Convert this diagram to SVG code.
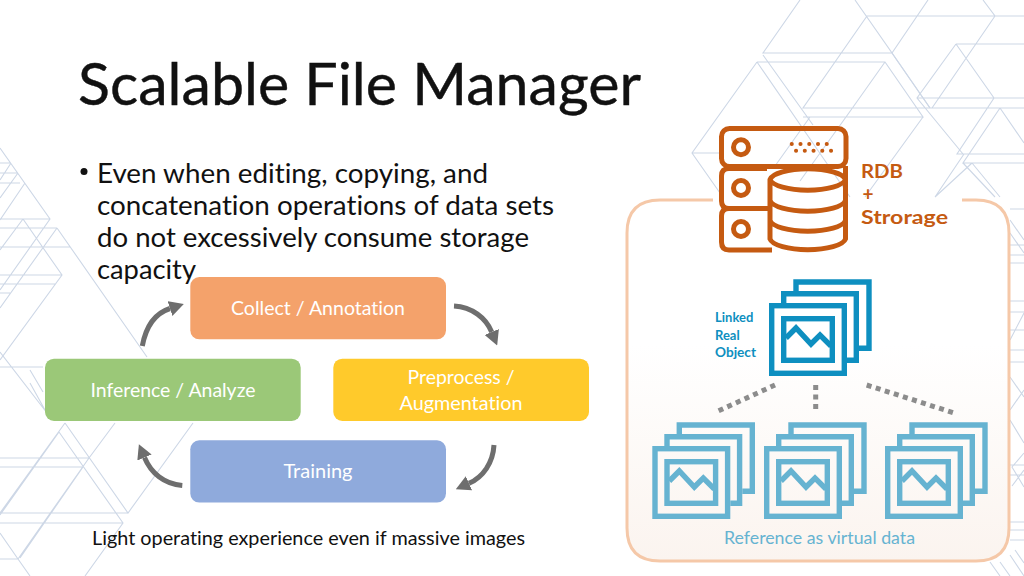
<svg xmlns="http://www.w3.org/2000/svg" width="1024" height="576" viewBox="0 0 1024 576">
<style>
.bg{fill:none;stroke:#cdd7e6;stroke-width:1.100}
text{font-family:"Lato","Open Sans","Liberation Sans",sans-serif;font-variant-ligatures:none}
.body{font-size:27px;fill:#111}
.lbl{font-size:20px;fill:#fff;text-anchor:middle}
.node{stroke:none}
.rdb{font-weight:700;font-size:19px;fill:#c55a11}
.lnk{font-weight:700;font-size:13px;fill:#0e8fc0}
.arc{fill:none;stroke:#6e6e6e;stroke-width:5}
.dot{fill:none;stroke:#8c8c8c;stroke-width:5;stroke-dasharray:5 4.500}
.db{fill:none;stroke:#c55a11;stroke-width:5;stroke-linejoin:round}
.st{fill:none;stroke-width:5.400}
</style>
<defs>
<linearGradient id="pg" x1="0" y1="0" x2="0" y2="1"><stop offset="0.4" stop-color="#fff"/><stop offset="1" stop-color="#fbf4ef"/></linearGradient>
<marker id="ah" viewBox="0 0 10 10" refX="0" refY="5" markerWidth="2.900" markerHeight="3.100" orient="auto" markerUnits="strokeWidth" preserveAspectRatio="none"><path d="M0 0L10 5L0 10Z" fill="#6e6e6e"/></marker>
<g id="imgs">
<path d="M27 -12V-21H100V45.300H90"/>
<path d="M14.700 0V-9.300H87.300V57.300H78"/>
<rect x="2.700" y="2.700" width="72.600" height="67.600"/>
<rect x="14.700" y="15.700" width="48.600" height="41.600"/>
<path d="M17 35L27 25L42 41L51 32L62 43"/>
</g>
</defs>
<rect width="1024" height="576" fill="#fff"/>
<g id="background">
<path class="bg" d="M800 0L763 53H892L855 0M928 0L892 53L930 108M983 0L995 16H867L803 108H1024M995 16H1024M995 16L932 108M763 55L813 125M757 62H885L923 117H803M757 62L692 153L720 193M692 153H720M757 62L850 197M885 62L851 110M923 117L865 197M956 44H1024M956 44L917 98L963 154M956 44L994 98L957 154H1024M917 98H1024M1000 108L963 163H1024M1000 108L1024 143M963 163L995 197M972 163L935 197M972 163L1000 197M964 154L935 197M851 110L800 181M810 117L775 166"/>
<path class="bg" d="M892 53L930 108" stroke-width="2"/>
<path class="bg" d="M1010 209H1024M1010 245H1024M1010 255H1024M1010 263H1024M1010 301H1024M1010 312H1024M1010 330H1024M1010 350H1024M1010 362H1024M1010 465H1024M1010 475H1024M1010 522H1024M1010 530H1024M1010 540H1024M1010 220L1024 240M1010 233L1024 253M1010 340L1024 313M1010 377L1024 397M1010 410L1024 390M1010 420L1024 443M1024 453L1012 467L1024 487M1024 470L1012 486M990 562L1000 576M1000 562L1010 576M1010 555L1024 576M1015 550L1024 563"/>
<path class="bg" d="M0 148L50 219L0 290M0 219H50M0 228H57M0 247H70M0 275H62M0 284H55M0 293H10M0 163H11M0 173H18M0 183H20M18 173L0 198M11 163L0 180M25 183L0 220M23 219L62 275L0 360M23 219L0 250M57 228L147 357M57 228L0 308"/>
<path class="bg" d="M0 352L47 413M30 370L43 392M0 367H43M30 383L45 410M0 458H89M0 467H83M0 513H128M0 523H123M0 559H18M65 423L128 513L193 423M59 432L123 523L85 576M65 423L0 513M115 423L89 458L18 559M83 467L20 558M18 559L30 576M0 533L18 559M59 432L0 515"/>
</g>
<g id="title"><text x="78" y="104.500" font-size="57.500" fill="#111" stroke="#111" stroke-width="0.400" textLength="563" lengthAdjust="spacingAndGlyphs">Scalable File Manager</text></g>
<g id="bullets">
<circle cx="84" cy="171.500" r="3.500" fill="#111"/>
<text class="body" x="97" y="182.500" textLength="391" lengthAdjust="spacingAndGlyphs">Even when editing, copying, and</text>
<text class="body" x="97" y="214.500" textLength="457" lengthAdjust="spacingAndGlyphs">concatenation operations of data sets</text>
<text class="body" x="97" y="246.500" textLength="432" lengthAdjust="spacingAndGlyphs">do not excessively consume storage</text>
<text class="body" x="97" y="278.500" textLength="99" lengthAdjust="spacingAndGlyphs">capacity</text>
</g>
<g id="panel">
<path d="M713 200H660Q627 200 627 233V528Q627 561 660 561H976Q1009 561 1009 528V233Q1009 200 976 200H962" fill="url(#pg)" stroke="#f5c8a8" stroke-width="3"/>
</g>
<g id="connectors">
<path class="arc" d="M142.300 346C146 326 156 313 170 308.500" marker-end="url(#ah)"/>
<path class="arc" d="M454 306C472 307 486 318 491.700 332" marker-end="url(#ah)"/>
<path class="arc" d="M494 445C493 463 483 477 469 483.300" marker-end="url(#ah)"/>
<path class="arc" d="M182.300 485.500C164 484 151 473 144.500 457.500" marker-end="url(#ah)"/>
<path class="dot" d="M775 385L716.700 411.700"/>
<path class="dot" d="M815.700 385V410"/>
<path class="dot" d="M866.700 385L953.300 412.700"/>
</g>
<g id="node-collect"><rect class="node" x="190.300" y="277" width="255.700" height="62.300" rx="9" fill="#f4a26b"/><text class="lbl" x="318" y="315" textLength="174" lengthAdjust="spacingAndGlyphs">Collect / Annotation</text></g>
<g id="node-preprocess"><rect class="node" x="333.300" y="358.700" width="255.700" height="62.300" rx="9" fill="#ffca2b"/><text class="lbl" x="461" y="384" textLength="107" lengthAdjust="spacingAndGlyphs">Preprocess /</text><text class="lbl" x="461" y="410" textLength="123" lengthAdjust="spacingAndGlyphs">Augmentation</text></g>
<g id="node-inference"><rect class="node" x="45" y="358.700" width="255.700" height="62.300" rx="9" fill="#9bc878"/><text class="lbl" x="173" y="397" textLength="165" lengthAdjust="spacingAndGlyphs">Inference / Analyze</text></g>
<g id="node-training"><rect class="node" x="190.300" y="440.300" width="255.700" height="62.300" rx="9" fill="#8faadc"/><text class="lbl" x="318" y="478" textLength="69" lengthAdjust="spacingAndGlyphs">Training</text></g>
<g id="caption"><text x="92" y="545" font-size="20" fill="#111" textLength="433" lengthAdjust="spacingAndGlyphs">Light operating experience even if massive images</text></g>
<g id="node-rdb">
<rect class="db" x="721.500" y="128.500" width="124.500" height="38" rx="8"/>
<path class="db" d="M767 168.500H729Q721.500 168.500 721.500 176V201Q721.500 208.500 729 208.500H770M770 208.500H729Q721.500 208.500 721.500 216V242Q721.500 250 729 250H772M845.500 166V180"/>
<circle class="db" cx="741" cy="147.300" r="7.500"/><circle class="db" cx="741" cy="188" r="7.500"/><circle class="db" cx="741" cy="229" r="7.500"/>
<path d="M791.700 144h36M796 150.700h36" fill="none" stroke="#c55a11" stroke-width="4" stroke-linecap="round" stroke-dasharray="0.100 8.650"/>
<path class="db" d="M770 179.500A38 12 0 0 1 845.500 179.500V239A38 12 0 0 1 770 239ZM770 179.500A38 12 0 0 0 845.500 179.500M770 200.500A38 12 0 0 0 845.500 200.500M770 220.500A38 12 0 0 0 845.500 220.500"/>
</g>
<g id="label-rdb"><text class="rdb" x="861" y="177.500" textLength="42" lengthAdjust="spacingAndGlyphs">RDB</text><text class="rdb" x="862.500" y="200.500">+</text><text class="rdb" x="861" y="223.500" textLength="87" lengthAdjust="spacingAndGlyphs">Strorage</text></g>
<g id="node-linked"><use href="#imgs" transform="translate(769 303)" class="st" stroke="#0e8fc0"/>
<text class="lnk" x="715" y="322">Linked</text><text class="lnk" x="715" y="340">Real</text><text class="lnk" x="715" y="357" textLength="41" lengthAdjust="spacingAndGlyphs">Object</text></g>
<g id="node-virtual-1"><use href="#imgs" transform="translate(652.300 446)" class="st" stroke="#66b3d1"/></g>
<g id="node-virtual-2"><use href="#imgs" transform="translate(764 446)" class="st" stroke="#66b3d1"/></g>
<g id="node-virtual-3"><use href="#imgs" transform="translate(885 446)" class="st" stroke="#66b3d1"/></g>
<g id="label-virtual"><text x="724" y="543.500" font-size="17.500" fill="#66b3d1" textLength="191" lengthAdjust="spacingAndGlyphs">Reference as virtual data</text></g>
</svg>
